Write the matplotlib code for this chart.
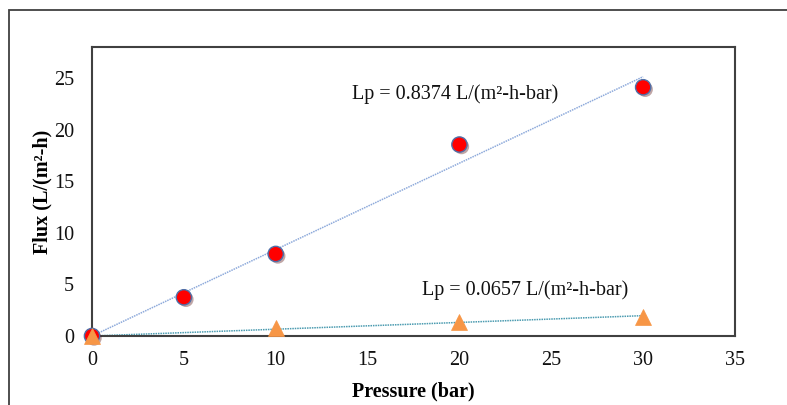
import matplotlib
matplotlib.use("Agg")
import matplotlib.pyplot as plt
from matplotlib.patches import Rectangle
import matplotlib.patheffects as pe
import numpy as np

plt.rcParams['font.family'] = ['Liberation Serif', 'DejaVu Serif']

pressure_a = [0, 5, 10, 20, 30]
flux_a = [0, 3.75, 7.95, 18.55, 24.1]
pressure_b = [0, 10, 20, 30]
flux_b = [0, 0.75, 1.35, 1.85]
slope_a = 0.8374
slope_b = 0.0657
label_a = "Lp = 0.8374 L/(m²-h-bar)"
label_b = "Lp = 0.0657 L/(m²-h-bar)"
xticks = [0, 5, 10, 15, 20, 25, 30, 35]
yticks = [0, 5, 10, 15, 20, 25]

fig = plt.figure(figsize=(7.87, 4.05), dpi=100)
ax = fig.add_axes([92/787, 1-336/405, (735-92)/787, (336-47)/405])

# outer chart border
fig.patches.append(Rectangle((9/787, -0.02), 1.0, 1-10/405+0.02, transform=fig.transFigure,
                             fill=False, edgecolor='#404040', linewidth=1.3, zorder=0))

xfit = np.array([0, 30])
ax.plot(xfit, slope_a*xfit, linestyle=(0, (1, 0.6)), color='#8eaadb', linewidth=1.1, zorder=2)
ax.plot(xfit, slope_b*xfit, linestyle=(0, (1, 0.6)), color='#4b9bb0', linewidth=1.1, zorder=2)

shadow = [pe.SimplePatchShadow(offset=(1.5, -1.5), alpha=0.35), pe.Normal()]
ax.plot(pressure_a, flux_a, linestyle='none', marker='o', markersize=11,
        markerfacecolor='#ff0000', markeredgecolor='#4f6fa8', markeredgewidth=1.0,
        zorder=4, path_effects=shadow, clip_on=False)
ax.plot(pressure_b, flux_b, linestyle='none', marker='^', markersize=11,
        markerfacecolor='#f79646', markeredgecolor='#f79646', markeredgewidth=0.5,
        zorder=5, clip_on=False)

ax.text(14.15, 23.4, label_a, fontsize=14.5, va='center', ha='left', color='#111111')
ax.text(17.96, 4.4, label_b, fontsize=14.5, va='center', ha='left', color='#111111')

ax.set_xlim(0, 35)
ax.set_ylim(0, 28)
ax.set_xticks(xticks)
ax.set_yticks(yticks)
ax.tick_params(axis='y', length=0, labelsize=14.5, pad=13, colors='#111111')
ax.tick_params(axis='x', length=0, labelsize=14.5, pad=11, colors='#111111')
for s in ax.spines.values():
    s.set_color('#404040')
    s.set_linewidth(1.5)

ax.set_xlabel('Pressure (bar)', fontsize=14.5, fontweight='bold', labelpad=8)
ax.set_ylabel('Flux (L/(m²-h)', fontsize=14.5, fontweight='bold', labelpad=1)

fig.savefig('out.png', dpi=100)
